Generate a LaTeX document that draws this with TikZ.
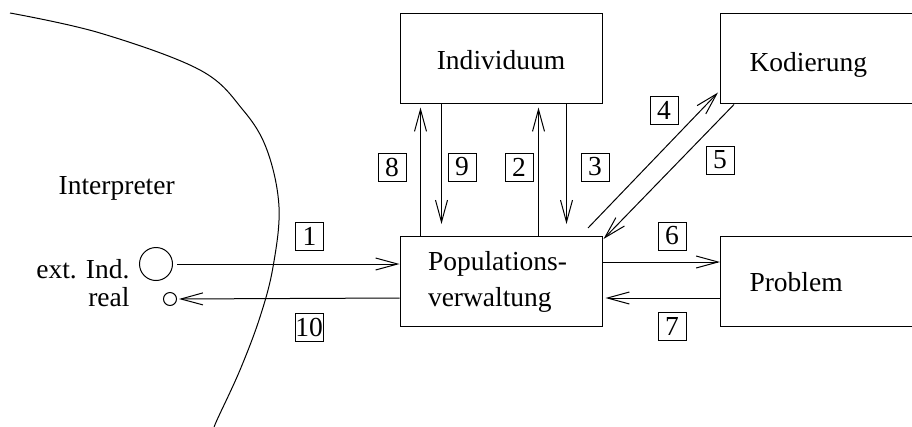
\documentclass[tikz,border=0pt]{standalone}
\usepackage{fontspec}
\setmainfont{Liberation Serif}
\usetikzlibrary{arrows.meta,calc}
\begin{document}
\begin{tikzpicture}[x=1pt,y=-1pt,line width=1pt,
  font=\fontsize{27.5}{36}\selectfont,
  box/.style={draw,inner sep=0pt,minimum width=202pt,minimum height=90pt},
  rbox/.style={draw,inner ysep=0pt,inner xsep=29pt,minimum height=90pt,text width=170pt,align=left,anchor=west},
  num/.style={draw,minimum size=28pt,inner sep=0pt,line width=1pt},
  arr/.style={-{Straight Barb[length=22pt,width=12pt]}},
  ring/.style={draw,circle,inner sep=0pt,line width=1pt}]
\useasboundingbox (0,0) rectangle (912,426);
\clip (0,0) rectangle (912,426);
% boxes
\node[box,text height=22pt,text depth=0pt] (ind) at (501,58) {Individuum};
\node[box,align=left,text width=146pt,inner xsep=28pt] (pop) at (501,281.5) {Populations-\\verwaltung};
\node[rbox,text height=26pt,text depth=0pt] (kod) at (720,58) {Kodierung};
\node[rbox,text height=20pt,text depth=0pt] (prob) at (720,281.5) {Problem};
% circles and texts
\node[ring,minimum size=33pt] (c1) at (156,264) {};
\node[ring,minimum size=13pt] (c2) at (170,299) {};
\node[anchor=base] (interp) at (116.7,194) {Interpreter};
\node[anchor=base east,inner sep=0pt] (ext) at (130,278) {ext. Ind.};
\node[anchor=base east,inner sep=0pt] (real) at (130,306) {real};
% boundary curve
\draw plot[smooth,tension=0.6] coordinates {(10,13) (100,33) (200,70) (243,110) (267,150) (279,207) (273,267) (260,317) (240,370) (217,420) (214,428)};
% arrows
\draw[arr,shorten <=4pt] (c1.east) -- (c1 -| pop.west);
\draw[arr,shorten >=2pt] ($(pop.north west)+(0,62)$) -- (c2.east);
\draw[arr,shorten >=4pt] ($(pop.north west)+(21,0)$) -- ($(ind.south west)+(21,0)$);
\draw[arr,shorten >=12pt] ($(ind.south west)+(42,0)$) -- ($(pop.north west)+(42,0)$);
\draw[arr,shorten >=4pt] ($(pop.north west)+(139,0)$) -- ($(ind.south west)+(139,0)$);
\draw[arr,shorten >=12pt] ($(ind.south west)+(167,0)$) -- ($(pop.north west)+(167,0)$);
\coordinate (a4) at (588,228);
\draw[arr] (a4) -- ($(kod.south west)+(-2,-11)$);
\draw[arr] ($(kod.south west)+(14,1)$) -- ($(pop.north east)+(1,3)$);
\draw[arr] ($(pop.north east)+(0,26)$) -- ($(prob.north west)+(0,26)$);
\draw[arr,shorten >=3pt] ($(prob.north west)+(0,62)$) -- ($(pop.north east)+(0,62)$);
% number labels
\node[num] (n1) at (309.5,236.5) {1};
\node[num] (n10) at (309,327) {10};
\node[num] (n8) at (392,167) {8};
\node[num] (n9) at (462,167) {9};
\node[num] (n2) at (519,167) {2};
\node[num] (n3) at (595,167) {3};
\node[num] (n4) at (664,110) {4};
\node[num] (n5) at (720,160) {5};
\node[num] (n6) at (672,236) {6};
\node[num] (n7) at (672,326) {7};
\end{tikzpicture}
\end{document}
